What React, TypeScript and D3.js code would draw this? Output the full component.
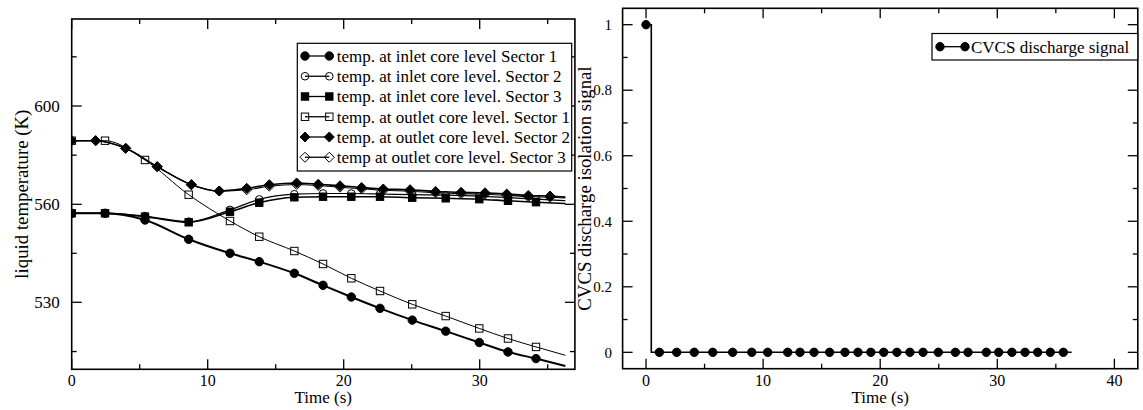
import React from 'react';
import * as d3 from 'd3';

// ---------- data: left panel (liquid temperature, K) ----------
const inletTimes = [0, 2.45, 5.39, 8.6, 11.64, 13.79, 16.37, 18.48, 20.56, 22.67, 25.04, 27.5, 29.97, 32.08, 34.14];
const inletS1 = [557.25, 557.25, 555.19, 549.29, 545.0, 542.43, 538.88, 535.2, 531.62, 528.16, 524.58, 521.21, 517.76, 514.88, 512.86];
const inletS2 = [557.25, 557.25, 556.4, 554.7, 558.3, 562.0, 564.1, 564.4, 564.4, 564.2, 563.9, 563.7, 563.3, 562.7, 562.1];
const inletS3 = [557.25, 557.25, 556.2, 554.49, 557.73, 560.65, 562.85, 563.09, 563.09, 563.09, 562.69, 562.44, 562.08, 561.42, 560.85];
const outletS1 = [585.88, 585.88, 578.03, 563.91, 554.89, 550.08, 545.7, 541.73, 537.35, 533.46, 529.39, 525.81, 522.04, 518.98, 516.41];
const outletTimes = [0, 1.76, 3.97, 6.29, 8.8, 10.85, 12.87, 14.53, 16.54, 18.13, 19.73, 21.32, 22.91, 24.88, 26.76, 28.63, 30.39, 31.99, 33.57, 35.17];
const outletS2 = [585.88, 585.88, 582.79, 575.3, 567.98, 565.41, 566.51, 567.98, 568.67, 568.18, 567.53, 566.84, 566.23, 565.94, 565.21, 564.88, 564.68, 564.19, 563.58, 563.38];
const outletS3 = [585.88, 585.88, 582.79, 575.3, 567.98, 565.41, 565.9, 567.36, 568.06, 567.65, 566.96, 566.31, 565.7, 565.33, 564.68, 564.35, 564.11, 563.66, 563.09, 562.89];
const endTime = 36.3;
const endValues = [510.6, 561.5, 560.33, 513.87, 562.97, 562.6];
const seriesLabels = [
  'temp. at inlet core level Sector 1',
  'temp. at inlet core level. Sector 2',
  'temp. at inlet core level. Sector 3',
  'temp. at outlet core level. Sector 1',
  'temp. at outlet core level. Sector 2',
  'temp at outlet core level. Sector 3',
];
const leftXMajor = [0, 10, 20, 30];
const leftXMinor = [5, 15, 25, 35];
const leftYMajor = [530, 560, 600];
const leftYMinor = [515, 545, 580, 620];

// ---------- data: right panel (CVCS discharge isolation signal) ----------
const signalTimes = [0, 1.14, 2.62, 4.12, 5.7, 7.4, 9.03, 10.39, 12.1, 13.15, 14.35, 15.68, 16.99, 18.1, 19.2, 20.3, 21.43, 22.54, 23.66, 24.96, 26.42, 27.5, 29.06, 30.12, 31.25, 32.37, 33.45, 34.53, 35.64];
const signalValues = [1, 0, 0, 0, 0, 0, 0, 0, 0, 0, 0, 0, 0, 0, 0, 0, 0, 0, 0, 0, 0, 0, 0, 0, 0, 0, 0, 0, 0];
const signalLineTimes = [0, 0.45, 0.45, 36.35];
const signalLineValues = [1, 1, 0, 0];
const signalLabel = 'CVCS discharge signal';
const rightXMajor = [0, 10, 20, 30, 40];
const rightXMinor = [5, 15, 25, 35];
const rightYMajor = [0, 0.2, 0.4, 0.6, 0.8, 1];
const rightYMinor = [0.1, 0.3, 0.5, 0.7, 0.9];

const FONT = '"Liberation Serif", "Times New Roman", Times, serif';
const YTICK_FS = 17;
const RYTICK_FS = 15;
const XTICK_FS = 16;
const LABEL_FS = 18.8;
const XLABEL_FS = 17;
const LEG_FS = 17;

type Sym = 'circleF' | 'circleO' | 'squareF' | 'squareO' | 'diamondF' | 'diamondO';

function Marker({ x, y, sym }: { x: number; y: number; sym: Sym }) {
  const filled = sym.endsWith('F');
  const fill = filled ? '#000' : 'none';
  const common = { fill, stroke: '#000', strokeWidth: 1 } as any;
  if (sym.startsWith('circle')) return <circle cx={x} cy={y} r={filled ? 4.2 : 3.8} {...common} />;
  if (sym.startsWith('square')) return <rect x={x - 3.7} y={y - 3.7} width={7.4} height={7.4} {...common} />;
  const s = 5;
  return <path d={`M${x},${y - s}L${x + s},${y}L${x},${y + s}L${x - s},${y}Z`} {...common} />;
}

const seriesSyms: Sym[] = ['circleF', 'circleO', 'squareF', 'squareO', 'diamondF', 'diamondO'];
const seriesWidths = [2, 1.2, 1.6, 1, 1.6, 1.1];

function Frame({ x0, x1, y0, y1, xs, ys, xMajor, xMinor, yMajor, yMinor }: any) {
  const els: any[] = [];
  const M = 10, m = 5;
  xMajor.forEach((v: number, i: number) => {
    const px = xs(v);
    els.push(<line key={'xb' + i} x1={px} x2={px} y1={y1} y2={y1 - M} />);
    els.push(<line key={'xt' + i} x1={px} x2={px} y1={y0} y2={y0 + M} />);
  });
  xMinor.forEach((v: number, i: number) => {
    const px = xs(v);
    els.push(<line key={'xbm' + i} x1={px} x2={px} y1={y1} y2={y1 - m} />);
    els.push(<line key={'xtm' + i} x1={px} x2={px} y1={y0} y2={y0 + m} />);
  });
  yMajor.forEach((v: number, i: number) => {
    const py = ys(v);
    els.push(<line key={'yl' + i} x1={x0} x2={x0 + M} y1={py} y2={py} />);
    els.push(<line key={'yr' + i} x1={x1} x2={x1 - M} y1={py} y2={py} />);
  });
  yMinor.forEach((v: number, i: number) => {
    const py = ys(v);
    els.push(<line key={'ylm' + i} x1={x0} x2={x0 + m} y1={py} y2={py} />);
    els.push(<line key={'yrm' + i} x1={x1} x2={x1 - m} y1={py} y2={py} />);
  });
  return (
    <g stroke="#000" strokeWidth={1.3} fill="none">
      {els}
      <rect x={x0} y={y0} width={x1 - x0} height={y1 - y0} strokeWidth={1.6} />
    </g>
  );
}

export default function App() {
  // left panel geometry
  const L = { x0: 71.7, x1: 574.9, y0: 19, y1: 369.3 };
  const lx = d3.scaleLinear().domain([0, 37]).range([L.x0, L.x1]);
  const ly = d3.scaleLinear().domain([509.6, 530, 560, 600, 635.4]).range([369.3, 302.3, 204.3, 106, 19]);

  // right panel geometry
  const R = { x0: 622.6, x1: 1137.8, y0: 8.3, y1: 368.7 };
  const rx = d3.scaleLinear().domain([-2, 42]).range([R.x0, R.x1]);
  const ry = d3.scaleLinear().domain([-0.05, 1.05]).range([R.y1, R.y0]);

  const allSeries = [
    { times: inletTimes, values: inletS1 },
    { times: inletTimes, values: inletS2 },
    { times: inletTimes, values: inletS3 },
    { times: inletTimes, values: outletS1 },
    { times: outletTimes, values: outletS2 },
    { times: outletTimes, values: outletS3 },
  ];

  const lineGen = d3
    .line<[number, number]>()
    .x((d) => lx(d[0]))
    .y((d) => ly(d[1]))
    .curve(d3.curveMonotoneX);

  const rLine = d3
    .line<[number, number]>()
    .x((d) => rx(d[0]))
    .y((d) => ry(d[1]));

  const legX = 297.3, legY = 43.3, legW = 274.4, legH = 127.7;
  const rowY0 = 56, rowDY = 20.25;
  const tickBase = 385.5;
  const labelBase = 403;

  return (
    <svg width={1143} height={410} style={{ position: 'absolute', left: 0, top: 0, background: '#fff' }} fontFamily={FONT}>
      <rect x={0} y={0} width={1143} height={410} fill="#fff" />
      <defs>
        <clipPath id="clipL">
          <rect x={L.x0} y={L.y0} width={L.x1 - L.x0} height={L.y1 - L.y0} />
        </clipPath>
      </defs>

      {/* ---------- left panel ---------- */}
      <g clipPath="url(#clipL)">
        {allSeries.map((s, i) => {
          const pts: [number, number][] = s.times.map((t, j) => [t, s.values[j]]);
          pts.push([endTime, endValues[i]]);
          return (
            <g key={'s' + i}>
              <path d={lineGen(pts) || ''} fill="none" stroke="#000" strokeWidth={seriesWidths[i]} />
              {s.times.map((t, j) => (
                <Marker key={j} x={lx(t)} y={ly(s.values[j])} sym={seriesSyms[i]} />
              ))}
            </g>
          );
        })}
      </g>
      <Frame {...L} xs={lx} ys={ly} xMajor={leftXMajor} xMinor={leftXMinor} yMajor={leftYMajor} yMinor={leftYMinor} />
      {leftXMajor.map((v) => (
        <text key={'lxt' + v} x={lx(v)} y={tickBase} fontSize={XTICK_FS} textAnchor="middle">
          {v}
        </text>
      ))}
      {leftYMajor.map((v) => (
        <text key={'lyt' + v} x={L.x0 - 12} y={ly(v)} dy="0.35em" fontSize={YTICK_FS} textAnchor="end">
          {v}
        </text>
      ))}
      <text x={(L.x0 + L.x1) / 2} y={labelBase} fontSize={XLABEL_FS} textAnchor="middle">
        Time (s)
      </text>
      <text transform={`translate(21,${(L.y0 + L.y1) / 2}) rotate(-90)`} fontSize={LABEL_FS} textAnchor="middle" dy="0.35em">
        liquid temperature (K)
      </text>

      {/* left legend */}
      <rect x={legX} y={legY} width={legW} height={legH} fill="#fff" stroke="#000" strokeWidth={1.2} />
      {seriesLabels.map((lab, i) => {
        const yy = rowY0 + i * rowDY;
        return (
          <g key={'leg' + i}>
            <line x1={305} x2={329.3} y1={yy} y2={yy} stroke="#000" strokeWidth={1.3} />
            <Marker x={305} y={yy} sym={seriesSyms[i]} />
            <Marker x={329.3} y={yy} sym={seriesSyms[i]} />
            <text x={336.7} y={yy} dy="0.35em" fontSize={LEG_FS}>
              {lab}
            </text>
          </g>
        );
      })}

      {/* ---------- right panel ---------- */}
      <path
        d={rLine(signalLineTimes.map((t, j) => [t, signalLineValues[j]] as [number, number])) || ''}
        fill="none"
        stroke="#000"
        strokeWidth={1.6}
      />
      {signalTimes.map((t, j) => (
        <Marker key={'sig' + j} x={rx(t)} y={ry(signalValues[j])} sym="circleF" />
      ))}
      <Frame {...R} xs={rx} ys={ry} xMajor={rightXMajor} xMinor={rightXMinor} yMajor={rightYMajor} yMinor={rightYMinor} />
      {rightXMajor.map((v) => (
        <text key={'rxt' + v} x={rx(v)} y={tickBase} fontSize={XTICK_FS} textAnchor="middle">
          {v}
        </text>
      ))}
      {rightYMajor.map((v) => (
        <text key={'ryt' + v} x={R.x0 - 10.5} y={ry(v)} dy="0.35em" fontSize={RYTICK_FS} textAnchor="end">
          {d3.format('~g')(v)}
        </text>
      ))}
      <text x={(R.x0 + R.x1) / 2} y={labelBase} fontSize={XLABEL_FS} textAnchor="middle">
        Time (s)
      </text>
      <text transform={`translate(584,${(R.y0 + R.y1) / 2}) rotate(-90)`} fontSize={LABEL_FS} textAnchor="middle" dy="0.35em">
        CVCS discharge isolation signal
      </text>

      {/* right legend */}
      <rect x={932} y={33.5} width={205.8} height={26.5} fill="#fff" stroke="#000" strokeWidth={1.2} />
      <line x1={940} x2={965} y1={46.7} y2={46.7} stroke="#000" strokeWidth={1.3} />
      <Marker x={940} y={46.7} sym="circleF" />
      <Marker x={965} y={46.7} sym="circleF" />
      <text x={971} y={46.7} dy="0.35em" fontSize={LEG_FS}>
        {signalLabel}
      </text>
    </svg>
  );
}
